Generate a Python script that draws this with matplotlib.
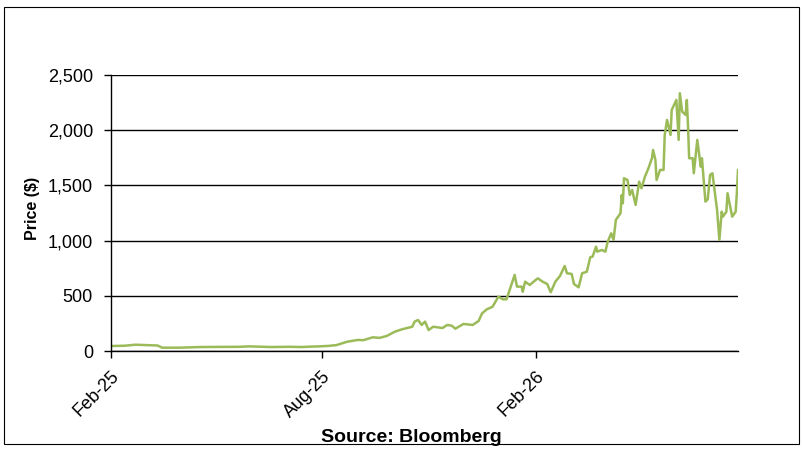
import pandas as pd
import matplotlib
matplotlib.use("Agg")
import matplotlib.pyplot as plt
import matplotlib.dates as mdates
from matplotlib.ticker import FuncFormatter, MultipleLocator
from matplotlib.patches import Rectangle

plt.rcParams['font.family'] = ['Liberation Sans', 'DejaVu Sans']

# price series (USD)
dates = [
    "2025-02-01", "2025-02-13", "2025-02-22", "2025-03-07", "2025-03-13", "2025-03-17",
    "2025-04-01", "2025-04-19", "2025-05-05", "2025-05-22", "2025-05-31", "2025-06-18",
    "2025-07-05", "2025-07-15", "2025-07-24", "2025-07-30", "2025-08-07", "2025-08-14",
    "2025-08-23", "2025-09-01", "2025-09-06", "2025-09-14", "2025-09-20", "2025-09-26",
    "2025-10-03", "2025-10-09", "2025-10-18", "2025-10-20", "2025-10-23", "2025-10-26",
    "2025-10-29", "2025-11-01", "2025-11-05", "2025-11-13", "2025-11-17", "2025-11-21",
    "2025-11-24", "2025-12-01", "2025-12-09", "2025-12-14", "2025-12-17", "2025-12-21",
    "2025-12-26", "2025-12-31", "2026-01-04", "2026-01-07", "2026-01-14", "2026-01-16",
    "2026-01-20", "2026-01-21", "2026-01-23", "2026-01-27", "2026-02-01", "2026-02-03",
    "2026-02-07", "2026-02-11", "2026-02-14", "2026-02-18", "2026-02-22", "2026-02-26",
    "2026-02-28", "2026-03-04", "2026-03-06", "2026-03-10", "2026-03-13", "2026-03-17",
    "2026-03-20", "2026-03-22", "2026-03-25", "2026-03-26", "2026-03-30", "2026-04-02",
    "2026-04-04", "2026-04-07", "2026-04-09", "2026-04-11", "2026-04-15", "2026-04-16",
    "2026-04-17", "2026-04-18", "2026-04-21", "2026-04-23", "2026-04-25", "2026-04-28",
    "2026-05-01", "2026-05-03", "2026-05-06", "2026-05-09", "2026-05-12", "2026-05-13",
    "2026-05-15", "2026-05-16", "2026-05-19", "2026-05-22", "2026-05-23", "2026-05-25",
    "2026-05-28", "2026-05-29", "2026-06-02", "2026-06-04", "2026-06-05", "2026-06-07",
    "2026-06-10", "2026-06-11", "2026-06-12", "2026-06-13", "2026-06-16", "2026-06-17",
    "2026-06-20", "2026-06-23", "2026-06-24", "2026-06-27", "2026-06-29", "2026-07-01",
    "2026-07-03", "2026-07-07", "2026-07-09", "2026-07-11", "2026-07-12", "2026-07-15",
    "2026-07-16", "2026-07-20", "2026-07-23", "2026-07-24", "2026-07-25",
]
prices = [
    45, 48, 57, 52, 50, 30,
    30, 36, 37, 38, 42, 36,
    38, 36, 40, 42, 46, 54,
    84, 100, 98, 124, 119, 136,
    175, 196, 220, 266, 281, 236,
    266, 190, 220, 208, 236, 229,
    202, 245, 236, 272, 341, 377,
    401, 492, 468, 468, 689, 583,
    583, 537, 628, 598, 643, 658,
    628, 607, 532, 628, 680, 770,
    704, 698, 607, 577, 704, 718,
    849, 855, 945, 900, 915, 900,
    990, 1066, 1006, 1187, 1248, 1413,
    1338, 1565, 1549, 1413, 1459, 1323,
    1534, 1474, 1579, 1655, 1746, 1821,
    1730, 1549, 1640, 1640, 1957, 2093,
    1957, 2183, 2274, 1912, 2335, 2168,
    2138, 2274, 2047, 1746, 1746, 1610,
    1912, 1670, 1746, 1353, 1374, 1595,
    1610, 1278, 1006, 1262, 1217, 1262,
    1429, 1217, 1262, 1429, 1640,
]

df = pd.DataFrame({"date": pd.to_datetime(dates), "price": prices})

fig = plt.figure(figsize=(8.04, 4.58), dpi=100)
ax = fig.add_axes([111 / 804, 1 - 351 / 458, (738 - 111) / 804, (351 - 75) / 458])

ax.plot(df["date"], df["price"], color="#9BBB59", linewidth=1.8)

ax.set_xlim(df["date"].iloc[0], df["date"].iloc[-1])
ax.set_ylim(0, 2500)
ax.yaxis.set_major_locator(MultipleLocator(500))
ax.yaxis.set_major_formatter(FuncFormatter(lambda v, p: f"{v:,.0f}"))
ax.xaxis.set_major_locator(mdates.MonthLocator(bymonth=[2, 8]))
ax.xaxis.set_major_formatter(mdates.DateFormatter("%b-%y"))

ax.grid(axis="y", color="black", linewidth=1.0)
ax.set_axisbelow(True)
for s in ["top", "right"]:
    ax.spines[s].set_visible(False)
for s in ["left", "bottom"]:
    ax.spines[s].set_linewidth(1.0)
    ax.spines[s].set_color("black")

ax.tick_params(axis="y", direction="out", length=5, width=1, labelsize=13, pad=8)
ax.tick_params(axis="x", direction="out", length=5, width=1, labelsize=13, pad=7)
for lbl in ax.get_xticklabels():
    lbl.set_rotation(45)
    lbl.set_ha("right")
    lbl.set_va("top")
    lbl.set_rotation_mode("anchor")

fig.text(33 / 804, 1 - 208 / 458, "Price ($)", rotation=90, ha="center", va="center",
         fontsize=11.5, fontweight="bold")
fig.text(411 / 804, 1 - 437 / 458, "Source: Bloomberg", ha="center", va="center",
         fontsize=14, fontweight="bold")

# outer chart border
fig.patches.append(Rectangle((4 / 804, 1 - 444 / 458), 795 / 804, 437 / 458,
                             transform=fig.transFigure, fill=False,
                             edgecolor="black", linewidth=0.8))

fig.savefig("out.png", dpi=100)
